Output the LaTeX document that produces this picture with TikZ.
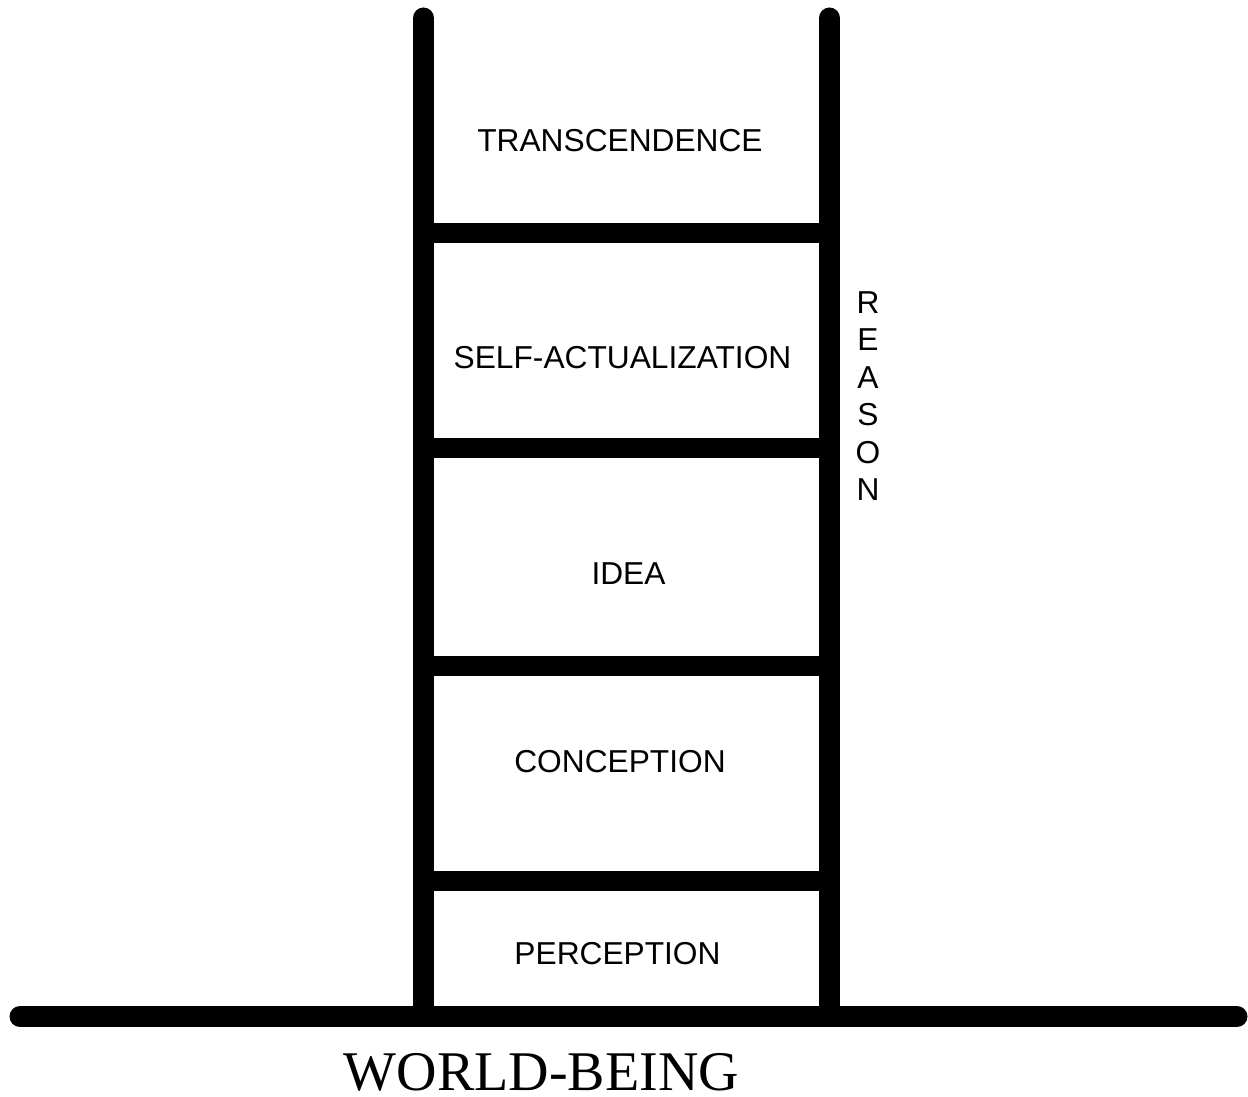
\documentclass[tikz,border=0pt]{standalone}
\usepackage{fontspec}
\setmainfont{Liberation Serif}
\newfontfamily\arialf{Liberation Sans}
\begin{document}
\begin{tikzpicture}[x=1pt,y=-1pt,
  rail/.style={line width=21pt,line cap=round},
  rung/.style={line width=20pt,line cap=butt},
  lbl/.style={font=\arialf\fontsize{31.7}{37.5}\selectfont,inner sep=0pt},
  base/.style={font=\fontsize{56}{60}\selectfont,inner sep=0pt}]
\useasboundingbox[fill=white] (0,0) rectangle (1248,1097);
% coordinates
\coordinate (lt) at (423.5,18);
\coordinate (lb) at (423.5,1016);
\coordinate (rt) at (829.5,18);
\coordinate (rb) at (829.5,1016);
\coordinate (gl) at (20,1016.5);
\coordinate (gr) at (1237,1016.5);
\foreach \n/\y in {1/233,2/448,3/666,4/881}{
  \coordinate (a\n) at (413,\y);
  \coordinate (b\n) at (840,\y);
}
% rails
\draw[rail] (lt) -- (lb);
\draw[rail] (rt) -- (rb);
% rungs
\foreach \n in {1,2,3,4}{ \draw[rung] (a\n) -- (b\n); }
% ground
\draw[rail] (gl) -- (gr);
% labels
\node[lbl] (trans) at (620,140.5) {TRANSCENDENCE};
\node[lbl] (self) at (622.5,358) {SELF-ACTUALIZATION};
\node[lbl] (idea) at (628.5,573.5) {IDEA};
\node[lbl] (conc) at (620,762) {CONCEPTION};
\node[lbl] (perc) at (617.5,953.5) {PERCEPTION};
\node[lbl,align=center] (reason) at (868,396) {R\\E\\A\\S\\O\\N};
\node[base] (world) at (541.5,1072) {WORLD-BEING};
\end{tikzpicture}
\end{document}
